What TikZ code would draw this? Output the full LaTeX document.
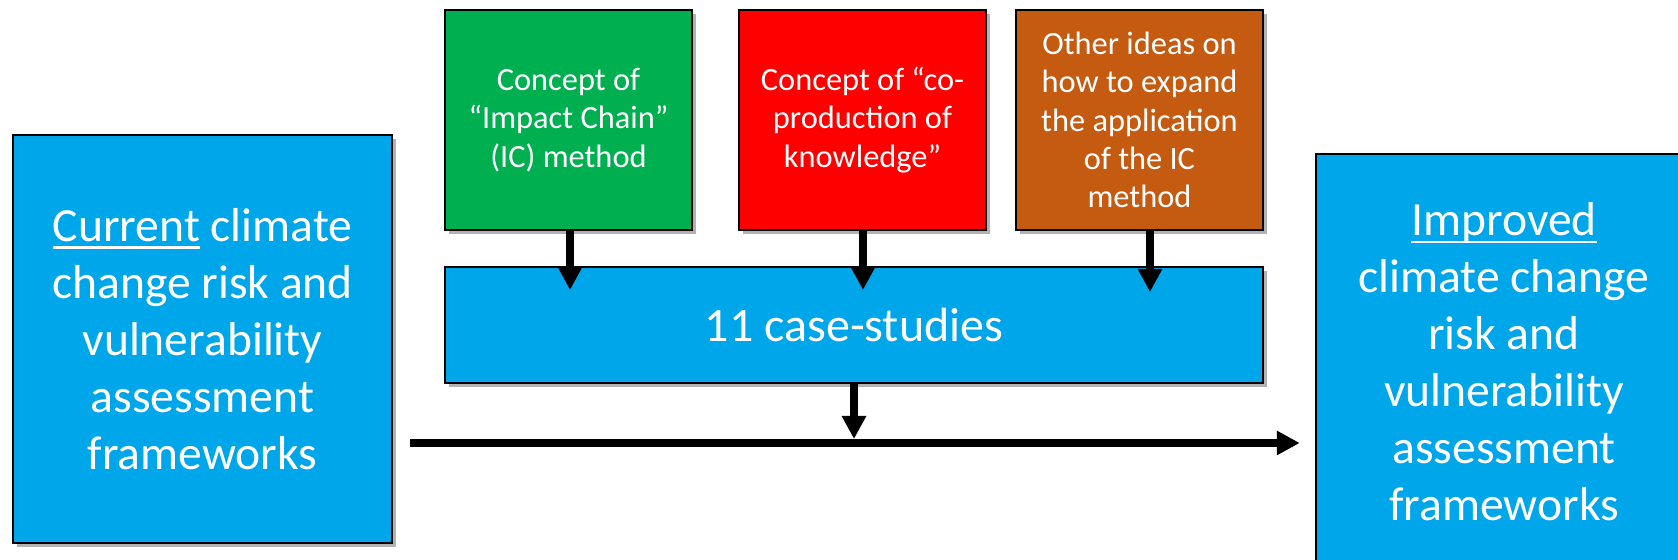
\documentclass[tikz,border=0pt]{standalone}
\usepackage{fontspec}
\setmainfont{Carlito}
\usetikzlibrary{arrows.meta,shadows,calc}
\definecolor{boxblue}{HTML}{00A6EA}
\definecolor{boxgreen}{HTML}{00B050}
\definecolor{boxred}{HTML}{FF0000}
\definecolor{boxbrown}{HTML}{C55A11}
\newsavebox{\ulbox}
\newcommand{\myul}[1]{\sbox{\ulbox}{#1}\rlap{\rule[-3.6pt]{\wd\ulbox}{1.25pt}}\usebox{\ulbox}}
\tikzset{
  shadowed/.style={drop shadow={shadow xshift=2pt,shadow yshift=-2pt,fill=black,opacity=0.3}},
  cbox/.style={draw=black,line width=1.2pt,inner sep=0pt,text=white,align=center,shadowed},
  bigtext/.style={font=\fontsize{23.8pt}{28.5pt}\selectfont},
  smalltext/.style={font=\fontsize{16.2pt}{19.2pt}\selectfont},
  arr/.style={line width=3.6pt,-{Triangle[length=11.5pt,width=11.5pt]}},
}
\begin{document}
\begin{tikzpicture}[x=0.5pt,y=-0.5pt]
\useasboundingbox (0,0) rectangle (1678,560);
\node[cbox,bigtext,fill=boxblue,minimum width=189.5pt,minimum height=204pt] (cur) at (202.5,339)
  {\myul{Current} climate\\change risk and\\vulnerability\\assessment\\frameworks};
\node[cbox,bigtext,fill=boxblue,minimum width=188pt,minimum height=208pt] (imp) at (1504,362)
  {\myul{Improved}\\climate change\\risk and\\vulnerability\\assessment\\frameworks};
\node[cbox,smalltext,fill=boxgreen,minimum width=123.5pt,minimum height=110pt] (green) at (568.5,120)
  {Concept of\\“Impact Chain”\\(IC) method};
\node[cbox,smalltext,fill=boxred,minimum width=123.5pt,minimum height=110pt] (red) at (862.5,120)
  {Concept of “co-\\production of\\knowledge”};
\node[cbox,smalltext,fill=boxbrown,minimum width=123.5pt,minimum height=110pt] (brown) at (1139.5,120)
  {Other ideas on\\how to expand\\the application\\of the IC\\method};
\node[cbox,fill=boxblue,font=\fontsize{24pt}{28pt}\selectfont,minimum width=409pt,minimum height=58pt] (mid) at (854,325)
  {11 case-studies};
\coordinate (g1) at (570,290);
\coordinate (r1) at (863,290);
\coordinate (b1) at (1150,292);
\coordinate (m1) at (854,439);
\coordinate (h0) at (409,443);
\draw[arr] (green.south -| g1) -- (g1);
\draw[arr] (red.south -| r1) -- (r1);
\draw[arr] (brown.south -| b1) -- (b1);
\draw[arr] (mid.south -| m1) -- (m1);
\draw[arr] ($(cur.east |- h0)+(17,0)$) -- ($(imp.west |- h0)+(-15,0)$);
\end{tikzpicture}
\end{document}
